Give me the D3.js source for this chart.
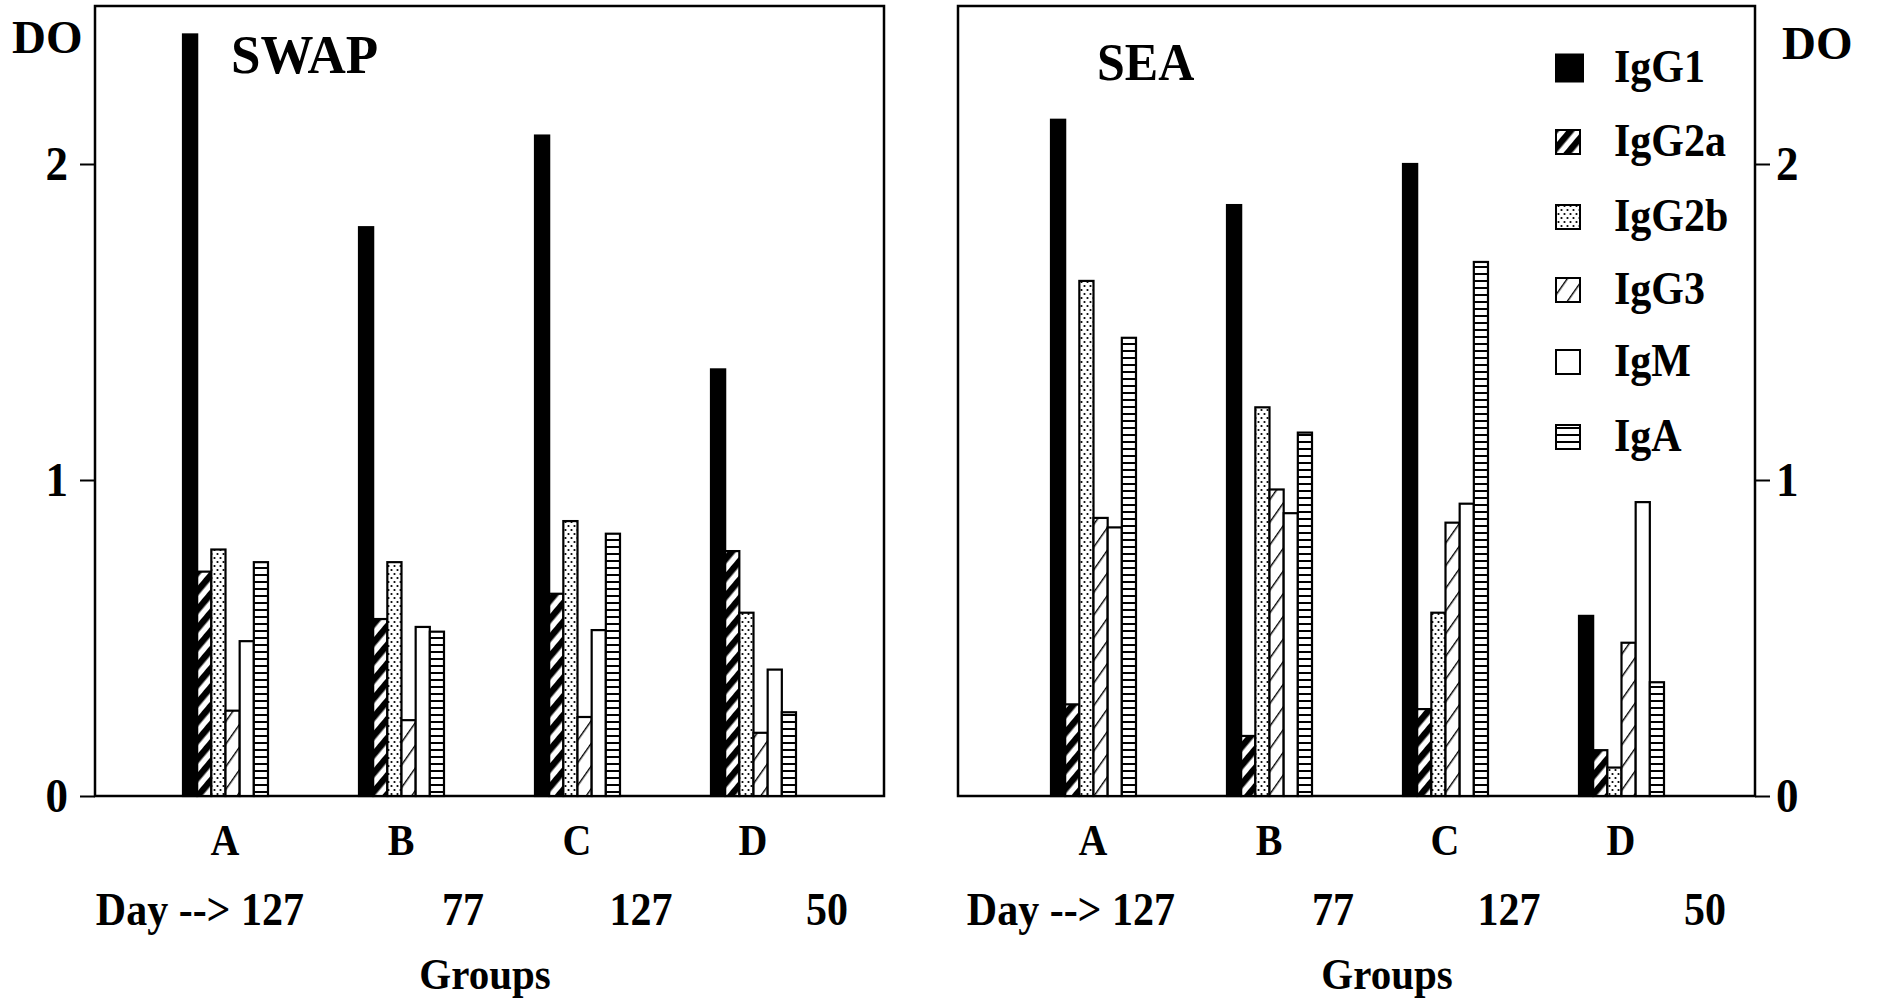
<!DOCTYPE html>
<html>
<head>
<meta charset="utf-8">
<script src="https://cdn.jsdelivr.net/npm/d3@7"></script>
<style>
  html, body { margin: 0; padding: 0; background: #fff; }
  svg { display: block; }
  text { font-family: "Liberation Serif", "Times New Roman", serif; font-weight: bold; fill: #000; }
</style>
</head>
<body>
<svg id="chart" width="1878" height="1005"></svg>
<script>
// Groups, days and isotypes
const groups = ["A", "B", "C", "D"];
const days = ["127", "77", "127", "50"];
const isotypes = ["IgG1", "IgG2a", "IgG2b", "IgG3", "IgM", "IgA"];
const yTicks = [0, 1, 2];

// Optical density (DO) per isotype, groups A..D — SWAP antigen
const swapIgG1  = [2.41, 1.80, 2.09, 1.35];
const swapIgG2a = [0.71, 0.56, 0.64, 0.775];
const swapIgG2b = [0.78, 0.74, 0.87, 0.58];
const swapIgG3  = [0.27, 0.24, 0.25, 0.20];
const swapIgM   = [0.49, 0.535, 0.525, 0.40];
const swapIgA   = [0.74, 0.52, 0.83, 0.265];

// Optical density (DO) per isotype, groups A..D — SEA antigen
const seaIgG1  = [2.14, 1.87, 2.00, 0.57];
const seaIgG2a = [0.29, 0.19, 0.275, 0.145];
const seaIgG2b = [1.63, 1.23, 0.58, 0.09];
const seaIgG3  = [0.88, 0.97, 0.865, 0.485];
const seaIgM   = [0.85, 0.895, 0.925, 0.93];
const seaIgA   = [1.45, 1.15, 1.69, 0.36];

const swapSeries = [swapIgG1, swapIgG2a, swapIgG2b, swapIgG3, swapIgM, swapIgA];
const seaSeries  = [seaIgG1, seaIgG2a, seaIgG2b, seaIgG3, seaIgM, seaIgA];

const svg = d3.select("#chart");
const defs = svg.append("defs");

// Fill patterns for each isotype
function linePattern(id, period, width, angle, bg) {
  const p = defs.append("pattern")
    .attr("id", id).attr("patternUnits", "userSpaceOnUse")
    .attr("width", period).attr("height", period)
    .attr("patternTransform", `rotate(${angle})`);
  p.append("rect").attr("width", period).attr("height", period).attr("fill", bg);
  p.append("rect").attr("x", 0).attr("y", 0).attr("width", period).attr("height", width).attr("fill", "#000");
}
linePattern("pat-g2a", 12, 6.5, -50, "#fff");
linePattern("pat-g3", 13, 1.4, -55, "#fff");
linePattern("pat-iga", 7, 2, 0, "#fff");
const dots = defs.append("pattern")
  .attr("id", "pat-g2b").attr("patternUnits", "userSpaceOnUse")
  .attr("width", 6).attr("height", 8);
dots.append("rect").attr("width", 6).attr("height", 8).attr("fill", "#fff");
dots.append("circle").attr("cx", 1.5).attr("cy", 2).attr("r", 1.1).attr("fill", "#000");
dots.append("circle").attr("cx", 4.5).attr("cy", 6).attr("r", 1.1).attr("fill", "#000");

const fills = {
  IgG1: "#000",
  IgG2a: "url(#pat-g2a)",
  IgG2b: "url(#pat-g2b)",
  IgG3: "url(#pat-g3)",
  IgM: "#fff",
  IgA: "url(#pat-iga)"
};

const plotTop = 6, plotBottom = 796;
const y = d3.scaleLinear().domain([0, 2.5]).range([plotBottom, plotTop]);

// Bold serif label, slightly stretched vertically about its baseline
function label(sel, x, yPos, size, sy) {
  return sel
    .attr("x", 0).attr("y", 0)
    .attr("transform", (d, i) => {
      const xx = typeof x === "function" ? x(d, i) : x;
      return `translate(${xx},${yPos}) scale(1,${sy})`;
    })
    .attr("font-size", size);
}

function panel(opts) {
  const g = svg.append("g");
  const x = d3.scaleBand().domain(groups)
    .range([opts.bandStart, opts.bandStart + 704]);
  const xi = d3.scaleBand().domain(isotypes).range([-42, 43]);
  const cx = d => x(d) + x.bandwidth() / 2;

  // frame
  g.append("rect")
    .attr("x", opts.x0).attr("y", plotTop)
    .attr("width", opts.x1 - opts.x0).attr("height", plotBottom - plotTop)
    .attr("fill", "none").attr("stroke", "#000").attr("stroke-width", 2.5);

  // bars
  isotypes.forEach((iso, k) => {
    g.append("g").selectAll("rect")
      .data(opts.series[k])
      .join("rect")
      .attr("x", (d, i) => cx(groups[i]) + xi(iso))
      .attr("y", d => y(d))
      .attr("width", xi.bandwidth())
      .attr("height", d => y(0) - y(d))
      .attr("fill", fills[iso])
      .attr("stroke", "#000")
      .attr("stroke-width", 2.2);
  });

  // y axis
  const axis = (opts.side === "left" ? d3.axisLeft(y) : d3.axisRight(y))
    .tickValues(yTicks).tickFormat(d3.format("d"))
    .tickSize(15).tickPadding(opts.side === "left" ? 12 : 6);
  const ax = g.append("g")
    .attr("transform", `translate(${opts.side === "left" ? opts.x0 : opts.x1},0)`)
    .call(axis);
  ax.select(".domain").remove();
  ax.selectAll(".tick line").attr("stroke", "#000").attr("stroke-width", 2);
  ax.selectAll(".tick text")
    .attr("font-size", 45).attr("fill", "#000")
    .attr("transform", "scale(1,1.1)")
    .style("font-family", '"Liberation Serif", "Times New Roman", serif')
    .style("font-weight", "bold");

  // axis title
  label(g.append("text"), opts.doX, opts.doY, 47, 1).text("DO");

  // panel title
  label(g.append("text"), opts.titleX, opts.titleY, opts.titleSize, 1.05).text(opts.title);

  // group letters
  label(g.append("g").selectAll("text").data(groups).join("text"),
        d => cx(d), 855, 40, 1.1)
    .attr("text-anchor", "middle")
    .text(d => d);

  // day row
  label(g.append("g").selectAll("text").data(days).join("text"),
        (d, i) => cx(groups[i]) + opts.dayOffsets[i], 925, 42, 1.1)
    .attr("text-anchor", (d, i) => i === 0 ? "end" : "middle")
    .text((d, i) => i === 0 ? "Day --> " + d : d);

  label(g.append("text"), opts.groupsX, 989, 41, 1.1)
    .attr("text-anchor", "middle").text("Groups");

  return g;
}

panel({
  x0: 95, x1: 884, bandStart: 137, side: "left",
  series: swapSeries, title: "SWAP", titleSize: 53, titleX: 231, titleY: 73,
  doX: 12, doY: 53, groupsX: 485, dayOffsets: [79, 62, 64, 74]
});

panel({
  x0: 958, x1: 1755, bandStart: 1005, side: "right",
  series: seaSeries, title: "SEA", titleSize: 50, titleX: 1097, titleY: 80,
  doX: 1782, doY: 59, groupsX: 1387, dayOffsets: [82, 64, 64, 84]
});

// legend
const legendRows = [68, 142, 217, 290, 362, 437];
const legend = svg.append("g");
isotypes.forEach((iso, k) => {
  const size = k === 0 ? 27 : 24;
  legend.append("rect")
    .attr("x", 1556).attr("y", legendRows[k] - size / 2)
    .attr("width", size).attr("height", size)
    .attr("fill", fills[iso]).attr("stroke", "#000").attr("stroke-width", 2);
  label(legend.append("text"), 1614, legendRows[k] + 14, 42, 1.08).text(iso);
});
</script>
</body>
</html>
